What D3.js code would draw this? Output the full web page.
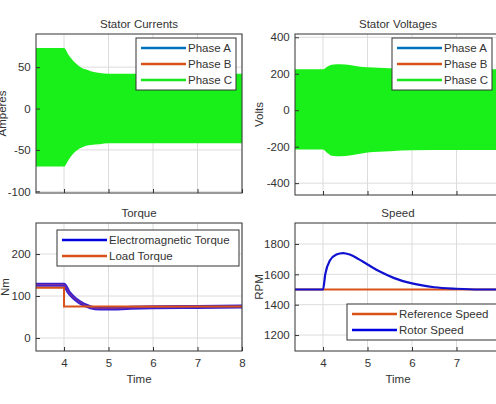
<!DOCTYPE html>
<html><head><meta charset="utf-8">
<script src="https://cdn.jsdelivr.net/npm/d3@7"></script>
<style>
body{margin:0;background:#fff;}
text{font-family:"Liberation Sans",Arial,sans-serif;fill:#333;}
</style></head>
<body><svg id="c" width="496" height="404"></svg>
<script>
// envelope of the three phase currents (upper / lower)
var curT     = [3.37, 4.0, 4.1, 4.2, 4.3, 4.4, 4.5, 4.6, 4.8, 5.0, 5.5, 6, 7, 8];
var curUpper = [73, 73, 65, 58, 53, 49, 47, 45, 43, 42, 42, 42, 42, 42];
var curLower = [-70, -70, -62, -55, -50, -47, -45, -44, -43, -42, -42, -42, -42, -42];

var voltT     = [3.37, 4.0, 4.1, 4.2, 4.4, 4.6, 4.8, 5.0, 5.5, 6, 7, 8];
var voltUpper = [225, 225, 240, 250, 252, 248, 240, 235, 230, 226, 225, 225];
var voltLower = [-215, -215, -235, -250, -253, -248, -240, -232, -225, -220, -218, -218];

var torqueT    = [3.37, 4.0, 4.1, 4.2, 4.3, 4.4, 4.5, 4.6, 4.8, 5.0, 5.5, 6, 7, 8];
var emTorque   = [127, 127, 110, 98, 89, 82, 77, 73, 70, 70, 72, 73, 74, 75];
var loadTorque = [120, 120, 75, 75, 75, 75, 75, 75, 75, 75, 75, 75, 75, 75];

var speedT     = [3.37, 4.0, 4.05, 4.15, 4.3, 4.45, 4.6, 4.8, 5.0, 5.3, 5.6, 6, 6.5, 7, 7.5, 8];
var rotorSpeed = [1500, 1500, 1600, 1690, 1730, 1740, 1730, 1700, 1665, 1615, 1575, 1540, 1515, 1505, 1500, 1500];
var refSpeed   = [1500, 1500, 1500, 1500, 1500, 1500, 1500, 1500, 1500, 1500, 1500, 1500, 1500, 1500, 1500, 1500];

var xTicks = [4, 5, 6, 7, 8];

var svg = d3.select('#c');
var fmt = function (d) { return String(d); };  // plain hyphen minus like the original

function panel(o) {
  var g = svg.append('g');
  var x = d3.scaleLinear().domain([3.37, 8]).range([o.x0, o.x0 + 206]);
  var y = d3.scaleLinear().domain(o.yd).range([o.y1, o.y0]);
  var cid = 'cl' + Math.round(o.x0) + Math.round(o.y0);
  svg.append('defs').append('clipPath').attr('id', cid)
    .append('rect').attr('x', o.x0).attr('y', o.y0).attr('width', 206).attr('height', o.y1 - o.y0);

  g.append('rect').attr('x', o.x0).attr('y', o.y0).attr('width', 206).attr('height', o.y1 - o.y0)
    .attr('fill', '#fff');
  // grid
  g.selectAll('.gx').data(xTicks).enter().append('line')
    .attr('x1', x).attr('x2', x).attr('y1', o.y0).attr('y2', o.y1)
    .attr('stroke', '#dcdcdc');
  g.selectAll('.gy').data(o.yt).enter().append('line')
    .attr('y1', y).attr('y2', y).attr('x1', o.x0).attr('x2', o.x0 + 206)
    .attr('stroke', '#dcdcdc');

  var body = g.append('g').attr('clip-path', 'url(#' + cid + ')');
  o.draw(body, x, y);

  // axes
  var ax = g.append('g').attr('transform', 'translate(0,' + o.y1 + ')')
    .call(d3.axisBottom(x).tickValues(xTicks).tickSize(-4).tickFormat(o.xlab ? fmt : ''));
  var ay = g.append('g').attr('transform', 'translate(' + o.x0 + ',0)')
    .call(d3.axisLeft(y).tickValues(o.yt).tickSize(-4).tickFormat(fmt));
  [ax, ay].forEach(function (a) {
    a.select('.domain').remove();
    a.selectAll('line').attr('stroke', '#333');
    a.selectAll('text').attr('font-size', 11.5).style('font-family', '"Liberation Sans",Arial,sans-serif').attr('fill', '#333');
  });
  ax.selectAll('text').attr('dy', '1.1em');
  ay.selectAll('text').attr('dx', '-0.2em');
  g.append('rect').attr('x', o.x0).attr('y', o.y0).attr('width', 206).attr('height', o.y1 - o.y0)
    .attr('fill', 'none').attr('stroke', '#333').attr('stroke-width', 1);

  g.append('text').attr('x', o.x0 + 103).attr('y', o.y0 - 6).attr('text-anchor', 'middle')
    .attr('font-size', 11.5).text(o.title);
  g.append('text').attr('transform', 'translate(' + o.ylx + ',' + (o.y0 + o.y1) / 2 + ') rotate(-90)')
    .attr('text-anchor', 'middle').attr('font-size', 11.5).text(o.ylab);
  if (o.xlab) g.append('text').attr('x', o.x0 + 103).attr('y', o.y1 + 32).attr('text-anchor', 'middle')
    .attr('font-size', 11.5).text('Time');

  // legend
  var lg = g.append('g');
  lg.append('rect').attr('x', o.lx).attr('y', o.ly).attr('width', o.lw).attr('height', o.leg.length * 16 + 4)
    .attr('fill', '#fff').attr('stroke', '#333');
  o.leg.forEach(function (l, i) {
    var yy = o.ly + 10 + i * 16;
    lg.append('line').attr('x1', o.lx + 5).attr('x2', o.lx + 50).attr('y1', yy).attr('y2', yy)
      .attr('stroke', l[1]).attr('stroke-width', 2.5);
    lg.append('text').attr('x', o.lx + 52).attr('y', yy + 4).attr('font-size', 11.5).text(l[0]);
  });
}

function band(body, x, y, t, up, lo, col) {
  var a = d3.area().x(function (d, i) { return x(t[i]); })
    .y0(function (d, i) { return y(lo[i]); }).y1(function (d) { return y(d); })
    .curve(d3.curveMonotoneX);
  body.append('path').datum(up).attr('d', a).attr('fill', col);
}
function line(body, x, y, t, v, col, w, curve) {
  var l = d3.line().x(function (d, i) { return x(t[i]); }).y(function (d) { return y(d); })
    .curve(curve || d3.curveMonotoneX);
  body.append('path').datum(v).attr('d', l).attr('fill', 'none').attr('stroke', col).attr('stroke-width', w);
}

var phases = [['Phase A', '#0072bd'], ['Phase B', '#d95319'], ['Phase C', '#19e619']];

panel({x0: 36, y0: 34, y1: 193, yd: [-102, 90], yt: [-100, -50, 0, 50], title: 'Stator Currents',
  ylab: 'Amperes', ylx: 6, xlab: false, lx: 136, ly: 38, lw: 100, leg: phases,
  draw: function (b, x, y) { band(b, x, y, curT, curUpper, curLower, '#19f019'); }});

panel({x0: 295, y0: 34, y1: 195, yd: [-465, 418], yt: [-400, -200, 0, 200, 400], title: 'Stator Voltages',
  ylab: 'Volts', ylx: 263, xlab: false, lx: 392, ly: 38, lw: 100, leg: phases,
  draw: function (b, x, y) { band(b, x, y, voltT, voltUpper, voltLower, '#19f019'); }});

panel({x0: 36, y0: 223, y1: 351, yd: [-31, 274], yt: [0, 100, 200], title: 'Torque',
  ylab: 'Nm', ylx: 9, xlab: true, lx: 57, ly: 230, lw: 182,
  leg: [['Electromagnetic Torque', '#0000e0'], ['Load Torque', '#d95319']],
  draw: function (b, x, y) {
    line(b, x, y, torqueT, emTorque, '#3a20d0', 4);
    line(b, x, y, torqueT, emTorque, '#8a3090', 1);
    line(b, x, y, torqueT, loadTorque, '#d95319', 2, d3.curveStepBefore);
  }});

panel({x0: 295, y0: 223, y1: 351, yd: [1095, 1938], yt: [1200, 1400, 1600, 1800], title: 'Speed',
  ylab: 'RPM', ylx: 263, xlab: true, lx: 347, ly: 304, lw: 150,
  leg: [['Reference Speed', '#d95319'], ['Rotor Speed', '#0000e0']],
  draw: function (b, x, y) {
    line(b, x, y, speedT, refSpeed, '#d95319', 2);
    line(b, x, y, speedT, rotorSpeed, '#1010d0', 2.2);
  }});
</script></body></html>
